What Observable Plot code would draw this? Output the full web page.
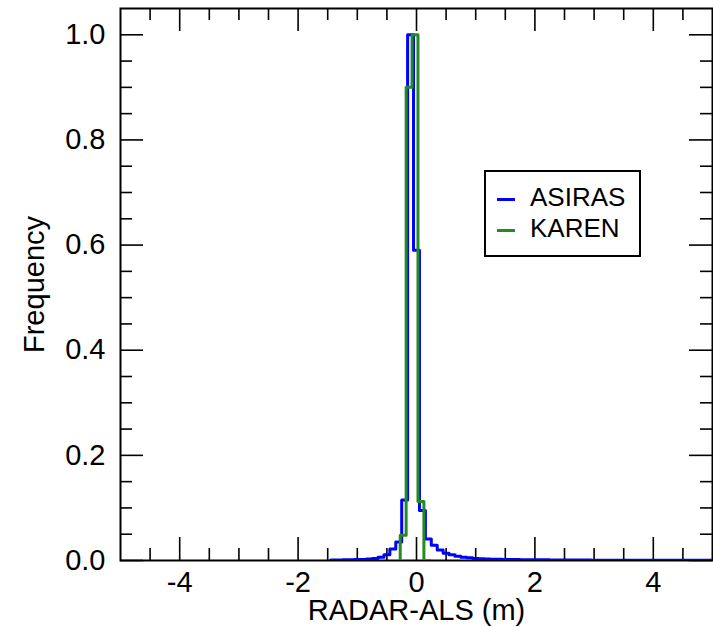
<!DOCTYPE html>
<html>
<head>
<meta charset="utf-8">
<script src="https://cdn.jsdelivr.net/npm/d3@7"></script>
<script src="https://cdn.jsdelivr.net/npm/@observablehq/plot@0.6"></script>
<style>
  body { margin: 0; background: #fff; }
  #wrap { position: relative; width: 713px; height: 627px; font-family: "Liberation Sans", Arial, sans-serif; }
  #legend { position: absolute; left: 484px; top: 170px; width: 157px; height: 87px; box-sizing: border-box;
            border: 2px solid #000; background: #fff; padding-top: 10px; }
  .row { display: flex; align-items: center; height: 31px; font-size: 26px; color: #000; }
  .sw { width: 18px; height: 3px; margin-left: 11px; margin-right: 15px; margin-top: 3px; }
</style>
</head>
<body>
<div id="wrap"></div>
<script>
// ---- data ----
const binWidth = 0.1;
const asirasFirstEdge = -1.45;
const asirasFreq = [
  0.001, 0.001, 0.0012, 0.0015, 0.0018, 0.002, 0.003, 0.004, 0.006, 0.011,
  0.022, 0.035, 0.115, 1.0, 0.59, 0.095, 0.041, 0.029, 0.020, 0.014,
  0.011, 0.008, 0.006, 0.005, 0.004, 0.0035, 0.003, 0.0025, 0.0022,
  0.002, 0.002, 0.0018, 0.0016, 0.0015, 0.0014, 0.0013, 0.0012, 0.0011, 0.001,
  0.001, 0.0009, 0.0009, 0.0008, 0.0008, 0.0007, 0.0007, 0.0007, 0.0006, 0.0006,
  0.0006, 0.0006, 0.0005, 0.0005, 0.0005, 0.0005, 0.0005, 0.0004, 0.0004, 0.0004,
  0.0004, 0.0004, 0.0004, 0.0003, 0.0003, 0.0003
];
const karenFirstEdge = -0.275;
const karenFreq = [0.048, 0.90, 1.00, 0.112, 0];

const seriesNames = ["ASIRAS", "KAREN"];
const seriesColors = ["#0000ff", "#228b22"];

const xMajorTicks = [-4, -2, 0, 2, 4];
const xMinorTicks = [-4.5, -3.5, -3, -2.5, -1.5, -1, -0.5, 0.5, 1, 1.5, 2.5, 3, 3.5, 4.5];
const yMajorTicks = [0, 0.2, 0.4, 0.6, 0.8, 1.0];
const yMinorTicks = [0.05, 0.1, 0.15, 0.25, 0.3, 0.35, 0.45, 0.5, 0.55, 0.65, 0.7, 0.75, 0.85, 0.9, 0.95];

// ---- build step outlines ----
function stepPoints(firstEdge, freq) {
  const pts = [{x: firstEdge, y: 0}];
  freq.forEach((f, i) => pts.push({x: firstEdge + i * binWidth, y: f}));
  const lastEdge = firstEdge + freq.length * binWidth;
  pts.push({x: lastEdge, y: freq[freq.length - 1]});
  pts.push({x: lastEdge, y: 0});
  return pts;
}
const asirasPts = stepPoints(asirasFirstEdge, asirasFreq);
const karenPts = stepPoints(karenFirstEdge, karenFreq);

const W = 713, H = 627, mL = 120, mR = 1, mT = 8, mB = 67;
const pW = W - mL - mR, pH = H - mT - mB;
const majorLen = 23, minorLen = 12;
const tickStyle = {stroke: "#000", strokeWidth: 1.6};
const FS = 29;

const chart = Plot.plot({
  width: W, height: H,
  marginLeft: mL, marginRight: mR, marginTop: mT, marginBottom: mB,
  style: {fontFamily: "Liberation Sans, Arial, sans-serif", fontSize: FS + "px", color: "#000", background: "#fff"},
  x: {domain: [-5, 5]},
  y: {domain: [0, 1.05]},
  marks: [
    // ticks, inward on all four sides
    Plot.tickX(xMajorTicks, {x: d => d, insetTop: pH - majorLen, ...tickStyle}),
    Plot.tickX(xMajorTicks, {x: d => d, insetBottom: pH - majorLen, ...tickStyle}),
    Plot.tickX(xMinorTicks, {x: d => d, insetTop: pH - minorLen, ...tickStyle}),
    Plot.tickX(xMinorTicks, {x: d => d, insetBottom: pH - minorLen, ...tickStyle}),
    Plot.tickY(yMajorTicks, {y: d => d, insetRight: pW - majorLen, ...tickStyle}),
    Plot.tickY(yMajorTicks, {y: d => d, insetLeft: pW - majorLen, ...tickStyle}),
    Plot.tickY(yMinorTicks, {y: d => d, insetRight: pW - minorLen, ...tickStyle}),
    Plot.tickY(yMinorTicks, {y: d => d, insetLeft: pW - minorLen, ...tickStyle}),
    Plot.frame({stroke: "#000", strokeWidth: 2}),
    Plot.axisX({ticks: xMajorTicks, tickSize: 0, tickPadding: 11, tickFormat: d => String(d), label: null, fontSize: FS}),
    Plot.axisY({ticks: yMajorTicks, tickSize: 0, tickPadding: 15, tickFormat: d3.format(".1f"), label: null, fontSize: FS}),
    Plot.text(["Frequency"], {text: d => d, frameAnchor: "left", textAnchor: "middle", lineAnchor: "middle",
                              dx: -86, rotate: -90, fontSize: FS, fill: "#000"}),
    Plot.text(["RADAR-ALS (m)"], {text: d => d, frameAnchor: "bottom", textAnchor: "middle", lineAnchor: "middle",
                                  dy: 50, fontSize: FS, fill: "#000"}),
    // histograms
    Plot.line(asirasPts, {x: "x", y: "y", curve: "step-after", stroke: seriesColors[0], strokeWidth: 3, clip: true}),
    Plot.line(karenPts, {x: "x", y: "y", curve: "step-after", stroke: seriesColors[1], strokeWidth: 3, clip: true})
  ]
});

const wrap = document.getElementById("wrap");
wrap.appendChild(chart);

const legend = document.createElement("div");
legend.id = "legend";
seriesNames.forEach((name, i) => {
  const row = document.createElement("div");
  row.className = "row";
  const sw = document.createElement("span");
  sw.className = "sw";
  sw.style.background = seriesColors[i];
  const label = document.createElement("span");
  label.textContent = name;
  row.appendChild(sw);
  row.appendChild(label);
  legend.appendChild(row);
});
wrap.appendChild(legend);
</script>
</body>
</html>
